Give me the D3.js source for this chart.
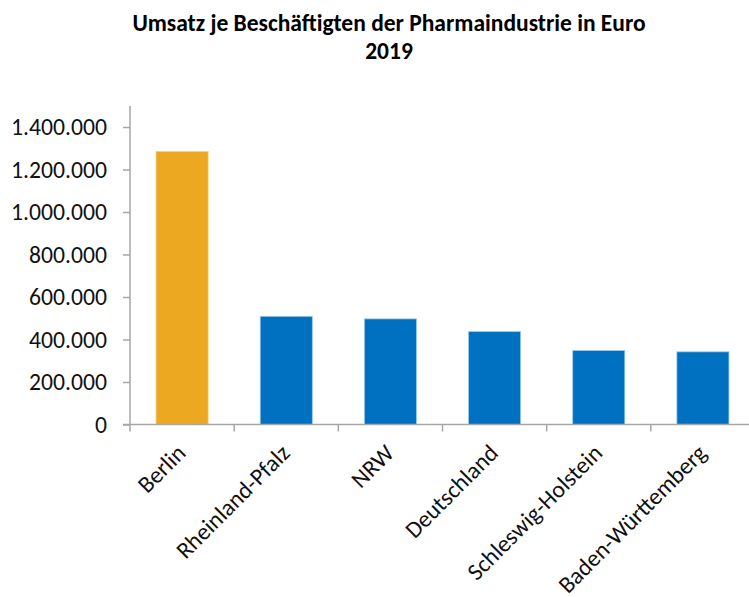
<!DOCTYPE html>
<html>
<head>
<meta charset="utf-8">
<script src="https://cdn.jsdelivr.net/npm/d3@7"></script>
<style>
  body { margin: 0; background: #fff; }
  svg { display: block; }
</style>
</head>
<body>
<div id="chart"></div>
<script>
// data
const regions = ["Berlin", "Rheinland-Pfalz", "NRW", "Deutschland", "Schleswig-Holstein", "Baden-Württemberg"]
const umsatz = [1285000, 509000, 497000, 437000, 348000, 342000]
const barColors = ["#EDA821", "#0070C0", "#0070C0", "#0070C0", "#0070C0", "#0070C0"]
const yTicks = [0, 200000, 400000, 600000, 800000, 1000000, 1200000, 1400000]

const width = 749, height = 597
const font = "Carlito, 'Open Sans', 'Liberation Sans', sans-serif"

const svg = d3.select("#chart").append("svg")
    .attr("width", width)
    .attr("height", height)

const x = d3.scaleBand()
    .domain(regions)
    .range([130, 755])
    .paddingInner(0.5)
    .paddingOuter(0.25)

const y = d3.scaleLinear()
    .domain([0, 1400000])
    .range([424.5, 127])

const fmt = d3.formatLocale({decimal: ",", thousands: ".", grouping: [3], currency: ["", "€"]}).format(",.0f")

// title
svg.append("text")
    .attr("x", 389).attr("y", 31)
    .attr("text-anchor", "middle")
    .style("font-family", font).style("font-weight", "bold").style("font-size", "23.5px")
    .text("Umsatz je Beschäftigten der Pharmaindustrie in Euro")
svg.append("text")
    .attr("x", 389).attr("y", 59)
    .attr("text-anchor", "middle")
    .style("font-family", font).style("font-weight", "bold").style("font-size", "23.5px")
    .text("2019")

// bars
svg.append("g").selectAll("rect")
    .data(umsatz)
    .join("rect")
    .attr("x", (d, i) => x(regions[i]))
    .attr("y", d => y(d))
    .attr("width", x.bandwidth())
    .attr("height", d => y(0) - y(d))
    .attr("fill", (d, i) => barColors[i])
    .attr("stroke", (d, i) => i == 0 ? "#F5CF86" : "#9CC8EC")
    .attr("stroke-width", 0.8)

// y axis
const yAxis = svg.append("g")
    .attr("transform", "translate(130,0)")
    .call(d3.axisLeft(y).tickValues(yTicks).tickFormat(fmt).tickSize(7).tickPadding(16))
yAxis.select(".domain").attr("d", `M0,${y(1400000) - 21}V${y(0)}`)
yAxis.selectAll("line, path").attr("stroke", "#A6A6A6").attr("stroke-width", 1.5)
yAxis.selectAll("text")
    .style("font-family", font).style("font-size", "23.7px").attr("fill", "#111")

// x axis, ticks sit between the categories
const xAxis = svg.append("g")
    .attr("transform", `translate(0,${y(0)})`)
xAxis.append("line")
    .attr("x1", 123).attr("x2", width)
    .attr("stroke", "#A6A6A6").attr("stroke-width", 1.5)
xAxis.selectAll(".sep")
    .data(regions)
    .join("line")
    .attr("class", "sep")
    .attr("x1", d => x(d) - x.step() * 0.25).attr("x2", d => x(d) - x.step() * 0.25)
    .attr("y1", 0).attr("y2", 7)
    .attr("stroke", "#A6A6A6").attr("stroke-width", 1.5)

xAxis.selectAll(".lab")
    .data(regions)
    .join("text")
    .attr("class", "lab")
    .attr("transform", d => `translate(${x(d) + x.bandwidth() / 2 + 5},${30}) rotate(-45)`)
    .attr("text-anchor", "end")
    .style("font-family", font).style("font-size", "23.7px").attr("fill", "#111")
    .text(d => d)
</script>
</body>
</html>
